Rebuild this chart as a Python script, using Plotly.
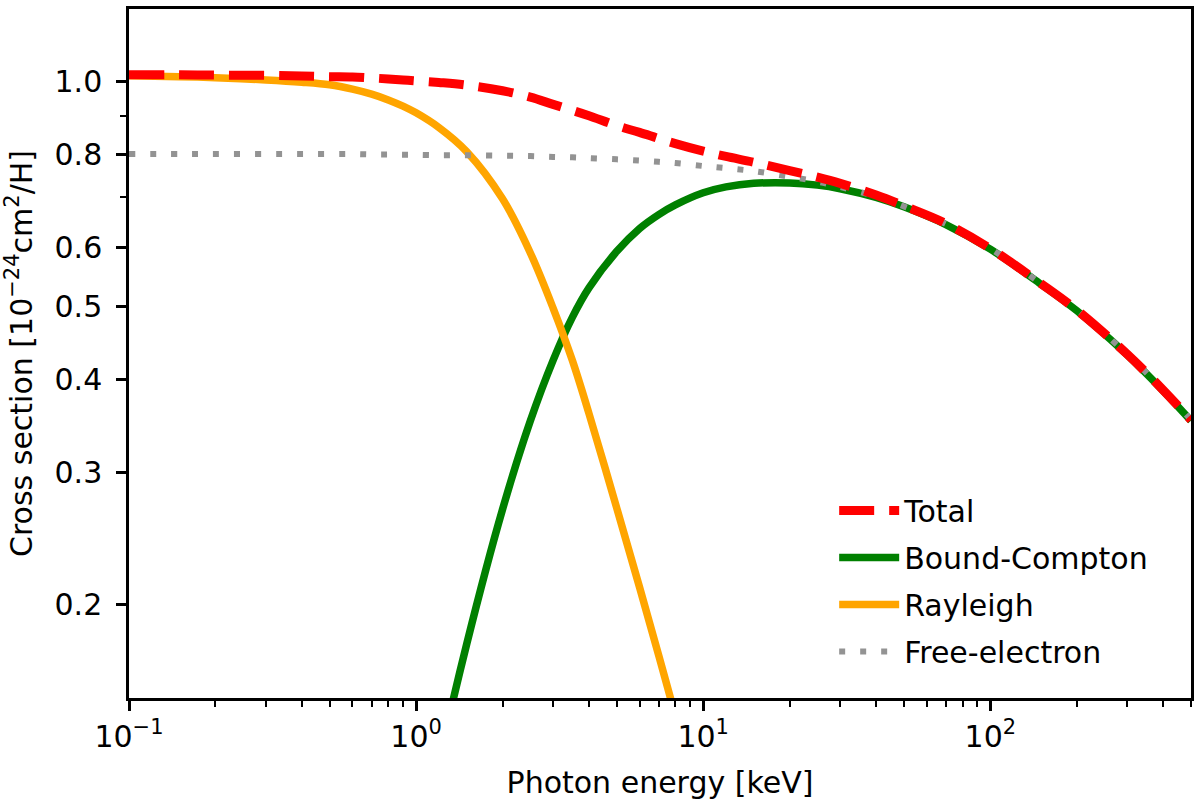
import plotly.graph_objects as go

# Photon energy grid [keV]
energy = [0.1, 0.15, 0.2, 0.3, 0.4, 0.5, 0.6, 0.7, 0.8, 0.9, 1.0, 1.2, 1.5,
          2.0, 2.5, 3.0, 3.5, 4.0, 5.0, 6.0, 7.0, 8.0, 10, 12, 15, 20, 25,
          30, 40, 50, 70, 100, 150, 200, 300, 400, 500]

# Cross sections [1e-24 cm^2 / H]
total = [1.021, 1.021, 1.020, 1.019, 1.017, 1.015, 1.014, 1.011, 1.008,
         1.005, 1.002, 0.997, 0.989, 0.972, 0.953, 0.932, 0.915, 0.900,
         0.873, 0.855, 0.839, 0.826, 0.807, 0.794, 0.780, 0.760, 0.745,
         0.731, 0.705, 0.682, 0.646, 0.598, 0.537, 0.495, 0.432, 0.387, 0.353]
free_electron = [0.800, 0.800, 0.800, 0.800, 0.800, 0.800, 0.800, 0.799,
                 0.799, 0.798, 0.798, 0.797, 0.797, 0.796, 0.795, 0.793,
                 0.792, 0.790, 0.787, 0.784, 0.781, 0.778, 0.771, 0.766,
                 0.759, 0.746, 0.735, 0.723, 0.702, 0.681, 0.645, 0.598,
                 0.537, 0.495, 0.432, 0.387, 0.353]

# Rayleigh only down to the bottom of the frame
energy_rayleigh = energy[:23]
rayleigh = [1.018, 1.015, 1.012, 1.005, 0.998, 0.990, 0.977, 0.962, 0.945,
            0.927, 0.908, 0.868, 0.806, 0.697, 0.590, 0.498, 0.424, 0.360,
            0.269, 0.211, 0.171, 0.142, 0.105]

# Bound-Compton starts rising above ~1 keV
energy_compton = energy[10:]
compton = [0.088, 0.123, 0.177, 0.268, 0.352, 0.424, 0.484, 0.530, 0.593,
           0.636, 0.664, 0.684, 0.710, 0.723, 0.731, 0.732, 0.727, 0.719,
           0.700, 0.680, 0.644, 0.597, 0.536, 0.494, 0.431, 0.386, 0.352]

x_ticks = [0.1, 1, 10, 100]
x_ticktext = ["10<sup>\u22121</sup>", "10<sup>0</sup>", "10<sup>1</sup>", "10<sup>2</sup>"]
y_ticks = [0.2, 0.3, 0.4, 0.5, 0.6, 0.8, 1.0]
y_ticktext = ["0.2", "0.3", "0.4", "0.5", "0.6", "0.8", "1.0"]
y_minor = [0.7, 0.9]
x_minor = [m * d for d in (0.1, 1, 10, 100) for m in range(2, 10) if m * d <= 500]

font = "DejaVu Sans"

fig = go.Figure()
fig.add_trace(go.Scatter(x=energy_compton, y=compton, mode="lines", name="Bound-Compton",
                         line=dict(color="#008000", width=7.5, shape="spline", smoothing=1),
                         legendrank=2, legendgroup="c"))
fig.add_trace(go.Scatter(x=energy_rayleigh, y=rayleigh, mode="lines", name="Rayleigh",
                         line=dict(color="#ffa500", width=7.5, shape="spline", smoothing=1),
                         legendrank=3, legendgroup="r"))
fig.add_trace(go.Scatter(x=energy, y=free_electron, mode="lines", name="Free-electron",
                         line=dict(color="#939393", width=6, dash="6px,15px",
                                   shape="spline", smoothing=1),
                         legendrank=4, legendgroup="f"))
fig.add_trace(go.Scatter(x=energy, y=total, mode="lines", name="Total",
                         line=dict(color="#ff0000", width=9, dash="35px,15px",
                                   shape="spline", smoothing=1),
                         legendrank=1, legendgroup="t"))

axis_style = dict(showline=True, linecolor="black", linewidth=2.5, mirror=True,
                  ticks="outside", tickwidth=2.5, ticklen=10, tickcolor="black",
                  showgrid=False, zeroline=False,
                  tickfont=dict(family=font, size=30, color="black"))

fig.update_xaxes(type="log", range=[-1, 2.69897], tickvals=x_ticks, ticktext=x_ticktext,
                 minor=dict(tickvals=x_minor, ticklen=6, tickwidth=2, ticks="outside",
                            tickcolor="black"),
                 title=dict(text="Photon energy [keV]", font=dict(family=font, size=30),
                            standoff=20),
                 **axis_style)
fig.update_yaxes(type="log", range=[-0.8239, 0.0969], tickvals=y_ticks, ticktext=y_ticktext,
                 ticklabelstandoff=8,
                 minor=dict(tickvals=y_minor, ticklen=6, tickwidth=2, ticks="outside",
                            tickcolor="black"),
                 title=dict(text="Cross section [10<sup>\u221224</sup>cm<sup>2</sup>/H]",
                            font=dict(family=font, size=30), standoff=14),
                 **axis_style)

fig.update_layout(
    width=1200, height=804,
    margin=dict(l=129, r=7, t=6, b=106),
    plot_bgcolor="white", paper_bgcolor="white",
    font=dict(family=font, size=30, color="black"),
    legend=dict(x=0.664, y=0.31, xanchor="left", yanchor="top",
                bgcolor="rgba(0,0,0,0)", borderwidth=0, itemwidth=60,
                tracegroupgap=5, font=dict(family=font, size=30)),
)

# drop the browser's default body margin so the figure sits at the page corner
fig.write_html("out.html", config={"displayModeBar": False},
               post_script="document.body.style.margin='0';")
